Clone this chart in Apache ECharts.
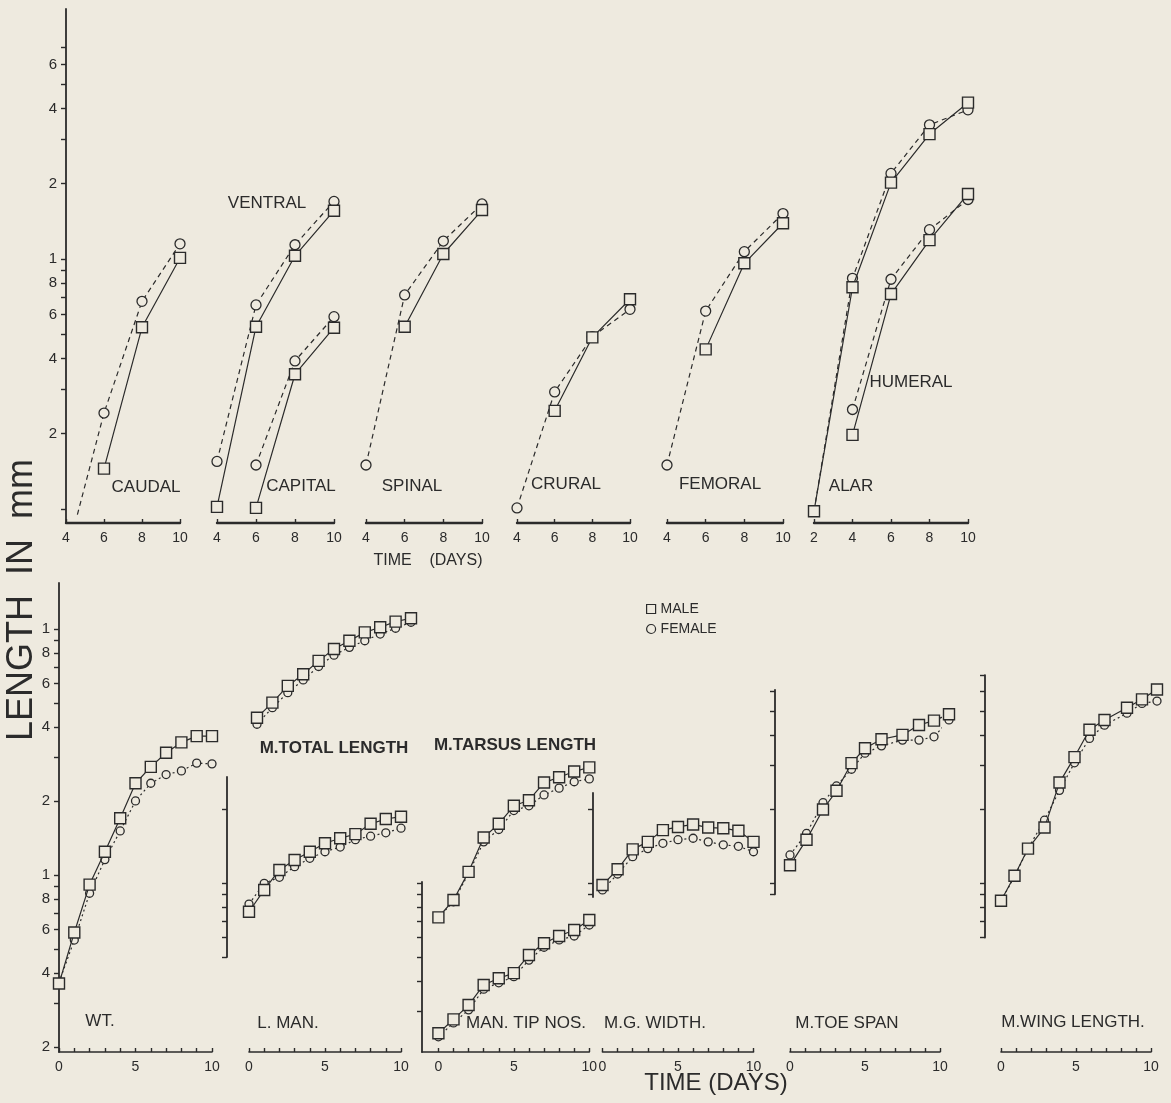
<!DOCTYPE html>
<html><head><meta charset="utf-8">
<script src="https://cdn.jsdelivr.net/npm/echarts@6/dist/echarts.min.js"></script>
<style>html,body{margin:0;padding:0;background:#eeeadf}#c{width:1171px;height:1103px}</style>
</head><body><div id="c"></div><script>
// ---------------- DATA ----------------
// Top row: log length (mm) vs time (days)
const caudalMaleDays = [6, 8, 10];
const caudalMale = [0.145, 0.533, 1.01];
const caudalFemaleDays = [4.6, 6, 8, 10];
const caudalFemale = [0.095, 0.242, 0.677, 1.15];

const ventralDays = [4, 6, 8, 10];
const ventralMale = [0.102, 0.536, 1.03, 1.56];
const ventralFemale = [0.155, 0.655, 1.14, 1.70];

const capitalDays = [6, 8, 10];
const capitalMale = [0.101, 0.346, 0.531];
const capitalFemale = [0.150, 0.391, 0.588];

const spinalMaleDays = [6, 8, 10];
const spinalMale = [0.536, 1.047, 1.57];
const spinalFemaleDays = [4, 6, 8, 10];
const spinalFemale = [0.150, 0.718, 1.18, 1.66];

const cruralMaleDays = [6, 8, 10];
const cruralMale = [0.247, 0.486, 0.690];
const cruralFemaleDays = [4, 6, 8, 10];
const cruralFemale = [0.101, 0.294, 0.489, 0.629];

const femoralMaleDays = [6, 8, 10];
const femoralMale = [0.435, 0.961, 1.39];
const femoralFemaleDays = [4, 6, 8, 10];
const femoralFemale = [0.150, 0.619, 1.07, 1.52];

const alarDays = [2, 4, 6, 8, 10];
const alarMale = [0.098, 0.771, 2.02, 3.16, 4.22];
const alarFemale = [0.098, 0.837, 2.20, 3.44, 3.95];

const humeralDays = [4, 6, 8, 10];
const humeralMale = [0.198, 0.724, 1.19, 1.82];
const humeralFemale = [0.250, 0.830, 1.31, 1.73];

// Bottom row
const days = [0, 1, 2, 3, 4, 5, 6, 7, 8, 9, 10];
const wtMale = [0.362, 0.584, 0.914, 1.243, 1.70, 2.36, 2.75, 3.14, 3.46, 3.67, 3.67];
const wtFemale = [0.366, 0.544, 0.843, 1.155, 1.51, 2.00, 2.36, 2.56, 2.65, 2.85, 2.83];
const totalMale = [4.36, 5.02, 5.87, 6.55, 7.42, 8.29, 8.96, 9.69, 10.16, 10.71, 11.06];
const totalFemale = [4.10, 4.79, 5.51, 6.21, 7.04, 7.83, 8.42, 8.96, 9.54, 10.07, 10.65];
const lmanMale = [0.764, 0.937, 1.13, 1.24, 1.34, 1.45, 1.52, 1.58, 1.74, 1.82, 1.86];
const lmanFemale = [0.821, 0.997, 1.055, 1.165, 1.26, 1.34, 1.40, 1.50, 1.55, 1.60, 1.67];
const tarsusMale = [7.25, 8.53, 11.1, 15.3, 17.4, 20.6, 21.7, 25.6, 26.9, 28.4, 29.5];
const tarsusFemale = [7.25, 8.39, 10.95, 14.7, 16.5, 19.7, 20.6, 22.8, 24.3, 25.8, 26.5];
const tipMale = [2.45, 2.79, 3.19, 3.85, 4.10, 4.30, 5.10, 5.69, 6.09, 6.44, 7.07];
const tipFemale = [2.37, 2.70, 3.05, 3.70, 3.93, 4.16, 4.86, 5.48, 5.87, 6.09, 6.75];
const mgMale = [0.981, 1.137, 1.37, 1.47, 1.64, 1.69, 1.73, 1.68, 1.67, 1.63, 1.47];
const mgFemale = [0.937, 1.088, 1.28, 1.38, 1.45, 1.50, 1.52, 1.47, 1.43, 1.41, 1.34];
const toeDays = [0, 1.1, 2.2, 3.1, 4.1, 5.0, 6.1, 7.5, 8.6, 9.6, 10.6];
const toeMale = [1.18, 1.50, 1.99, 2.37, 3.07, 3.53, 3.84, 4.00, 4.39, 4.57, 4.85];
const toeFemale = [1.30, 1.59, 2.12, 2.48, 2.90, 3.37, 3.61, 3.81, 3.81, 3.93, 4.60];
const wingDays = [0, 0.9, 1.8, 2.9, 3.9, 4.9, 5.9, 6.9, 8.4, 9.4, 10.4];
const wingMale = [0.847, 1.07, 1.38, 1.68, 2.56, 3.25, 4.20, 4.60, 5.16, 5.58, 6.12];
const wingFemale = [0.847, 1.06, 1.38, 1.80, 2.38, 3.08, 3.87, 4.38, 4.90, 5.37, 5.49];

// Tick values and tick labels
const topYTicks = [0.1, 0.2, 0.3, 0.4, 0.5, 0.6, 0.7, 0.8, 0.9, 1, 2, 3, 4, 5, 6, 7];
const topYLabelVals = [0.2, 0.4, 0.6, 0.8, 1, 2, 4, 6];
const topYLabelText = ['2', '4', '6', '8', '1', '2', '4', '6'];
const wtYTicks = [0.2, 0.3, 0.4, 0.5, 0.6, 0.7, 0.8, 0.9, 1, 2, 3, 4, 5, 6, 7, 8, 9, 10];
const wtYLabelVals = [0.2, 0.4, 0.6, 0.8, 1, 2, 4, 6, 8, 10];
const wtYLabelText = ['2', '4', '6', '8', '1', '2', '4', '6', '8', '1'];
const lmanYTicks = [0.5, 0.6, 0.7, 0.8, 0.9, 1, 2];
const tipYTicks = [3, 4, 5, 6, 7, 8, 9, 10];
const mgYTicks = [0.9, 1, 2];
const toeYTicks = [0.9, 1, 2, 3, 4, 5, 6];
const wingYTicks = [0.6, 0.7, 0.8, 0.9, 1, 2, 3, 4, 5, 6, 7];
const topXTicks = [4, 6, 8, 10];
const alarXTicks = [2, 4, 6, 8, 10];
const dayTicks = [0, 1, 2, 3, 4, 5, 6, 7, 8, 9, 10];
const dayLabels = [0, 5, 10];

// ---------------- STYLE / LAYOUT ----------------
const INK = '#2b2b2b', BG = '#eeeadf';
const FONT = '"Liberation Sans", "DejaVu Sans", sans-serif';
const PPD = 246; // pixels per decade, bottom row

const grids = [], xAxes = [], yAxes = [], series = [];
function addGrid(g, xa, ya) {
  grids.push(Object.assign({ outerBoundsMode: 'none', containLabel: false, show: false }, g));
  const gi = grids.length - 1;
  xAxes.push(Object.assign({ gridIndex: gi }, xa));
  yAxes.push(Object.assign({ gridIndex: gi }, ya));
  return gi;
}
function labelLookup(vals, texts) {
  return function (v) {
    let best = 0, bd = Infinity;
    vals.forEach((t, i) => { const d = Math.abs(Math.log(v / t)); if (d < bd) { bd = d; best = i; } });
    return texts[best];
  };
}
function xVis(min, max, ticks, labels, lw) {
  return {
    type: 'value', min: min, max: max, splitLine: { show: false },
    axisLine: { show: true, onZero: false, lineStyle: { color: INK, width: lw } },
    axisTick: { show: true, inside: true, length: 4, customValues: ticks, lineStyle: { color: INK, width: 1.4 } },
    axisLabel: { show: true, customValues: labels, color: INK, fontSize: 14, fontFamily: FONT, margin: 8,
      formatter: v => String(Math.round(v)) }
  };
}
const xHid = (min, max) => ({ type: 'value', min: min, max: max, show: false, splitLine: { show: false } });
const yHid = (min, max) => ({ type: 'log', logBase: 10, min: min, max: max, show: false, splitLine: { show: false } });
function yVis(min, max, ticks, labelVals, labelText) {
  return {
    type: 'log', logBase: 10, min: min, max: max, splitLine: { show: false }, minorTick: { show: false },
    axisLine: { show: true, lineStyle: { color: INK, width: 1.8 } },
    axisTick: { show: true, inside: false, length: 5, customValues: ticks, lineStyle: { color: INK, width: 1.4 } },
    axisLabel: labelVals ? { show: true, customValues: labelVals, color: INK, fontSize: 15, fontFamily: FONT, margin: 9,
      formatter: labelLookup(labelVals, labelText) } : { show: false }
  };
}
function pairs(xs, ys) { return xs.map((x, i) => [x, ys[i]]); }
function male(gi, xs, ys, size) {
  series.push({ name: 'MALE', type: 'line', xAxisIndex: gi, yAxisIndex: gi, data: pairs(xs, ys),
    symbol: 'rect', symbolSize: size, clip: false, z: 4, animation: false,
    lineStyle: { color: INK, width: 1.2, type: 'solid' },
    itemStyle: { color: BG, borderColor: INK, borderWidth: 1.4 }, emphasis: { disabled: true } });
}
function female(gi, xs, ys, size, dash, hideFirst) {
  const d = pairs(xs, ys).map((p, i) => (hideFirst && i === 0) ? { value: p, symbol: 'none' } : p);
  series.push({ name: 'FEMALE', type: 'line', xAxisIndex: gi, yAxisIndex: gi, data: d,
    symbol: 'circle', symbolSize: size, clip: false, z: 3, animation: false,
    lineStyle: { color: INK, width: 1.2, type: dash },
    itemStyle: { color: BG, borderColor: INK, borderWidth: 1.3 }, emphasis: { disabled: true } });
}

// ---- top row: value 1 at y=259, 250 px/decade, grid top 9 .. bottom 523
const TOP = 9, TOPH = 514, TMAX = 10, TMIN = Math.pow(10, (259 - 523) / 250);
const DASH = [5, 4];
let g;
g = addGrid({ left: 66, width: 114, top: TOP, height: TOPH }, xVis(4, 10, topXTicks, topXTicks, 2.4), yVis(TMIN, TMAX, topYTicks, topYLabelVals, topYLabelText));
female(g, caudalFemaleDays, caudalFemale, 10, DASH, true); male(g, caudalMaleDays, caudalMale, 11);
g = addGrid({ left: 217, width: 117, top: TOP, height: TOPH }, xVis(4, 10, topXTicks, topXTicks, 2.4), yHid(TMIN, TMAX));
female(g, ventralDays, ventralFemale, 10, DASH); male(g, ventralDays, ventralMale, 11);
female(g, capitalDays, capitalFemale, 10, DASH); male(g, capitalDays, capitalMale, 11);
g = addGrid({ left: 366, width: 116, top: TOP, height: TOPH }, xVis(4, 10, topXTicks, topXTicks, 2.4), yHid(TMIN, TMAX));
female(g, spinalFemaleDays, spinalFemale, 10, DASH); male(g, spinalMaleDays, spinalMale, 11);
g = addGrid({ left: 517, width: 113, top: TOP, height: TOPH }, xVis(4, 10, topXTicks, topXTicks, 2.4), yHid(TMIN, TMAX));
female(g, cruralFemaleDays, cruralFemale, 10, DASH); male(g, cruralMaleDays, cruralMale, 11);
g = addGrid({ left: 667, width: 116, top: TOP, height: TOPH }, xVis(4, 10, topXTicks, topXTicks, 2.4), yHid(TMIN, TMAX));
female(g, femoralFemaleDays, femoralFemale, 10, DASH); male(g, femoralMaleDays, femoralMale, 11);
g = addGrid({ left: 814, width: 154, top: TOP, height: TOPH }, xVis(2, 10, alarXTicks, alarXTicks, 2.4), yHid(TMIN, TMAX));
female(g, alarDays, alarFemale, 10, DASH); male(g, alarDays, alarMale, 11);
female(g, humeralDays, humeralFemale, 10, DASH); male(g, humeralDays, humeralMale, 11);

// ---- bottom row: data grids span y 583..1052
const BT = 583, BB = 1052;
function range(unitPx, unitVal) {
  return [unitVal * Math.pow(10, (unitPx - BB) / PPD), unitVal * Math.pow(10, (unitPx - BT) / PPD)];
}
function axisGrid(left, unitPx, unitVal, min, max, ticks) {
  const top = unitPx - PPD * Math.log10(max / unitVal);
  const height = PPD * Math.log10(max / min);
  addGrid({ left: left, width: 10, top: top, height: height }, xHid(0, 1), yVis(min, max, ticks));
}
const DOT = [2, 3];
let r;
r = range(875, 1);
g = addGrid({ left: 59, width: 153, top: BT, height: BB - BT }, xVis(0, 10, dayTicks, dayLabels, 1.6), yVis(r[0], r[1], wtYTicks, wtYLabelVals, wtYLabelText));
female(g, days, wtFemale, 8, DOT); male(g, days, wtMale, 11);
g = addGrid({ left: 257, width: 154, top: BT, height: BB - BT }, xHid(0, 10), yHid(r[0], r[1]));
female(g, days, totalFemale, 8, DOT); male(g, days, totalMale, 11);

r = range(883, 1);
g = addGrid({ left: 249, width: 152, top: BT, height: BB - BT }, xVis(0, 10, dayTicks, dayLabels, 1.6), yHid(r[0], r[1]));
female(g, days, lmanFemale, 8, DOT); male(g, days, lmanMale, 11);
axisGrid(227, 883, 1, 0.5, 2.7, lmanYTicks);

r = range(883, 10);
g = addGrid({ left: 422, width: 167.3, top: BT, height: BB - BT }, xVis(-1.087, 10, dayTicks, dayLabels, 1.6), yHid(r[0], r[1]));
female(g, days, tarsusFemale, 8, DOT); male(g, days, tarsusMale, 11);
female(g, days, tipFemale, 8, DOT); male(g, days, tipMale, 11);
axisGrid(422, 883, 10, r[0], 10.1, tipYTicks);

r = range(883, 1);
g = addGrid({ left: 602.5, width: 151, top: BT, height: BB - BT }, xVis(0, 10, dayTicks, dayLabels, 1.6), yHid(r[0], r[1]));
female(g, days, mgFemale, 8, DOT); male(g, days, mgMale, 11);
axisGrid(593, 883, 1, 0.877, 2.322, mgYTicks);

g = addGrid({ left: 790, width: 150, top: BT, height: BB - BT }, xVis(0, 10, dayTicks, dayLabels, 1.6), yHid(r[0], r[1]));
female(g, toeDays, toeFemale, 8, DOT); male(g, toeDays, toeMale, 11);
axisGrid(775, 883, 1, 0.9, 6.1, toeYTicks);

g = addGrid({ left: 1001, width: 150, top: BT, height: BB - BT }, xVis(0, 10, dayTicks, dayLabels, 1.6), yHid(r[0], r[1]));
female(g, wingDays, wingFemale, 8, DOT); male(g, wingDays, wingMale, 11);
axisGrid(985, 883, 1, 0.6, 7, wingYTicks);

// ---- text labels
const texts = [
  ['CAUDAL', 146, 487, 17, 0, 'normal'], ['VENTRAL', 267, 203, 17, 0, 'normal'], ['CAPITAL', 301, 486, 17, 0, 'normal'],
  ['SPINAL', 412, 486, 17, 0, 'normal'], ['CRURAL', 566, 484, 17, 0, 'normal'], ['FEMORAL', 720, 484, 17, 0, 'normal'],
  ['ALAR', 851, 486, 17, 0, 'normal'], ['HUMERAL', 911, 382, 17, 0, 'normal'],
  ['TIME    (DAYS)', 428, 561, 16, 0, 'normal'],
  ['M.TOTAL LENGTH', 334, 748, 17, 0, 'bold'], ['M.TARSUS LENGTH', 515, 745, 17, 0, 'bold'],
  ['WT.', 100, 1021, 17, 0, 'normal'], ['L. MAN.', 288, 1023, 17, 0, 'normal'], ['MAN. TIP NOS.', 526, 1023, 17, 0, 'normal'],
  ['M.G. WIDTH.', 655, 1023, 17, 0, 'normal'], ['M.TOE SPAN', 847, 1023, 17, 0, 'normal'],
  ['M.WING LENGTH.', 1073, 1022, 17, 0, 'normal'],
  ['TIME (DAYS)', 716, 1083, 24, 0, 'normal'],
  ['LENGTH  IN  mm', 22, 600, 36, Math.PI / 2, 'normal']
];
const graphic = texts.map(t => ({
  type: 'text', x: t[1], y: t[2], rotation: t[4], silent: true, z: 10,
  style: { text: t[0], fill: INK, font: t[5] + ' ' + t[3] + 'px ' + FONT,
    textAlign: 'center', textVerticalAlign: 'middle', align: 'center', verticalAlign: 'middle' }
}));

const chart = echarts.init(document.getElementById('c'), null, { renderer: 'canvas' });
chart.setOption({
  backgroundColor: BG,
  animation: false,
  grid: grids, xAxis: xAxes, yAxis: yAxes, series: series,
  legend: {
    orient: 'vertical', left: 641, top: 597, itemWidth: 9, itemHeight: 9, itemGap: 6, selectedMode: false,
    data: [{ name: 'MALE', icon: 'rect' }, { name: 'FEMALE', icon: 'circle' }],
    itemStyle: { color: BG, borderColor: INK, borderWidth: 1.2 },
    textStyle: { color: INK, fontSize: 14, fontFamily: FONT }
  },
  graphic: graphic
});
</script></body></html>
